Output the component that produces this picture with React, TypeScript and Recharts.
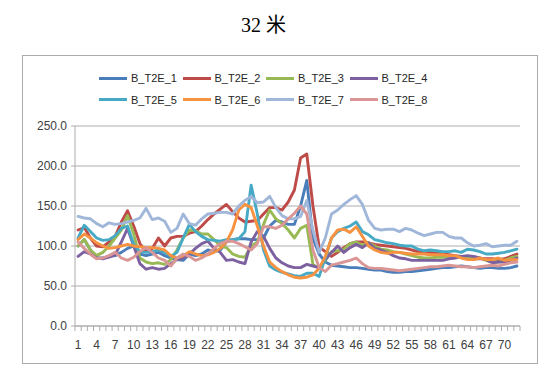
import React from 'react';
import { LineChart, Line, XAxis, YAxis, CartesianGrid, Legend } from 'recharts';

const categories = [1,2,3,4,5,6,7,8,9,10,11,12,13,14,15,16,17,18,19,20,21,22,23,24,25,26,27,28,29,30,31,32,33,34,35,36,37,38,39,40,41,42,43,44,45,46,47,48,49,50,51,52,53,54,55,56,57,58,59,60,61,62,63,64,65,66,67,68,69,70,71,72];
const seriesNames = ['B_T2E_1','B_T2E_2','B_T2E_3','B_T2E_4','B_T2E_5','B_T2E_6','B_T2E_7','B_T2E_8'];
const xLabelTicks = [1,4,7,10,13,16,19,22,25,28,31,34,37,40,43,46,49,52,55,58,61,64,67,70];
const yTicks = [0,50,100,150,200,250];

const b1 = [100,108,95,85,85,87,88,92,97,100, 90,88,90,92,88,85,83,82,90,88, 90,95,93,95,105,108,109,109,108,108, 110,125,132,130,127,127,150,182,109,90, 80,76,75,74,73,73,72,71,70,70, 68,67,67,68,68,69,70,71,72,73, 73,74,75,74,73,72,73,73,72,72, 73,75];
const b2 = [120,123,110,100,99,105,112,130,144,125, 103,93,97,110,100,110,112,112,116,118, 125,133,140,146,152,143,135,130,131,132, 140,148,148,145,155,170,210,215,150,99, 93,87,92,98,103,105,105,104,102,101, 100,99,98,97,95,93,92,92,91,90, 89,88,87,85,84,84,84,84,83,84, 87,90];
const b3 = [100,108,95,88,92,100,110,120,138,115, 85,80,78,79,77,83,95,110,120,119, 115,115,108,100,98,90,87,86,100,105, 127,145,134,128,120,110,122,126,77,72, 82,93,94,96,103,105,101,104,100,96, 95,93,92,90,88,86,85,85,86,86, 87,87,86,85,84,85,82,80,80,82, 85,87];
const b4 = [87,93,90,85,84,86,89,105,122,100, 78,71,73,71,72,78,83,85,90,97, 103,106,97,92,82,83,80,78,105,118, 112,97,85,79,75,73,73,77,75,73, 83,92,100,92,98,102,98,104,97,95, 92,88,85,84,82,82,82,82,82,82, 84,85,87,88,87,85,83,79,80,80, 82,85];
const b5 = [110,126,118,110,107,108,113,122,125,102, 93,92,93,95,92,87,92,110,127,118, 112,108,107,106,108,108,109,118,176,140, 95,75,70,67,65,63,62,66,66,62, 85,110,118,122,125,130,118,114,108,106, 104,103,101,100,100,96,94,95,94,93, 93,94,92,96,95,93,90,90,91,92, 94,96];
const b6 = [108,115,110,104,100,97,98,100,102,100, 99,98,98,97,95,88,85,88,93,90, 88,89,92,97,105,120,145,152,148,125, 100,80,73,68,64,61,60,61,64,72, 87,110,120,121,117,124,112,100,95,92, 91,92,92,91,90,90,90,89,89,89, 88,88,85,83,83,85,83,83,85,82, 83,83];
const b7 = [137,135,134,128,124,129,127,128,130,132, 135,147,133,135,131,117,122,140,128,126, 134,140,141,142,142,140,150,157,162,154, 155,162,148,138,134,134,137,157,120,92, 110,140,145,152,158,163,152,132,122,120, 121,121,118,122,120,116,113,115,117,117, 112,110,110,104,100,101,103,99,100,101, 101,106];
const b8 = [105,97,90,84,85,88,92,85,82,86, 93,98,92,85,82,75,85,90,87,82, 85,90,97,103,106,106,103,99,95,103, 124,124,122,126,134,141,150,140,95,73, 68,76,78,80,82,85,78,73,72,72, 71,70,69,70,71,72,73,74,74,75, 76,75,74,74,73,74,75,76,75,77, 79,80];

const seriesValues = [b1, b2, b3, b4, b5, b6, b7, b8];
const colors = ['#4A7EBB', '#BE4B48', '#98B954', '#7D60A0', '#46AAC5', '#F69240', '#A0B7DA', '#D99694'];

const data = categories.map((c, k) => {
  const row: Record<string, number> = { i: c };
  seriesNames.forEach((n, s) => { row[n] = seriesValues[s][k]; });
  return row;
});

const boundaryTicks = categories.map((c) => c - 0.5).concat([categories[categories.length - 1] + 0.5]);
const allXTicks = boundaryTicks.concat(xLabelTicks);

const FONT = "'Liberation Sans', Arial, sans-serif";
const GRID = '#ADADAD';

function XTick(props: any) {
  const { x, y, payload } = props;
  const v = payload.value;
  if (Number.isInteger(v)) {
    return (
      <text x={x} y={y + 23} textAnchor="middle" fontSize={12} fill="#404040" fontFamily={FONT}>
        {v}
      </text>
    );
  }
  return <line x1={x} x2={x} y1={y} y2={y + 5} stroke={GRID} strokeWidth={1} />;
}

const renderLegend = () => (
  <div style={{ position: 'relative', width: 558, height: 44 }}>
    {seriesNames.map((n, k) => {
      const col = k % 4;
      const row = Math.floor(k / 4);
      return (
        <div
          key={n}
          style={{
            position: 'absolute',
            left: 99 + col * 83.5,
            top: row * 21.5,
            height: 14,
            display: 'flex',
            alignItems: 'center',
            whiteSpace: 'nowrap',
          }}
        >
          <span style={{ display: 'inline-block', width: 28, height: 3, background: colors[k] }} />
          <span style={{ marginLeft: 4, fontSize: 11, fontFamily: FONT, color: '#262626', lineHeight: '14px' }}>{n}</span>
        </div>
      );
    })}
  </div>
);

export default function App() {
  return (
    <div style={{ position: 'fixed', left: 0, top: 0, width: 558, height: 379, background: '#fff', overflow: 'hidden' }}>
      <div
        style={{
          position: 'absolute', left: 0, top: 12, width: 527, textAlign: 'center',
          fontSize: 20, lineHeight: '26px', color: '#000',
          fontFamily: "'Liberation Serif', 'Times New Roman', 'Noto Sans CJK SC', serif",
        }}
      >
        32 米
      </div>
      <div
        style={{
          position: 'absolute', left: 22, top: 55, width: 516, height: 309,
          boxSizing: 'border-box', border: '1px solid #ABABAB',
        }}
      />
      <div style={{ position: 'absolute', left: 0, top: 0 }}>
        <LineChart width={558} height={379} data={data} margin={{ top: 126, right: 38, bottom: 23, left: 25 }}>
          <CartesianGrid vertical={false} stroke={GRID} strokeWidth={1} />
          <XAxis
            dataKey="i"
            type="number"
            domain={[0.5, 72.5]}
            ticks={allXTicks}
            interval={0}
            tick={<XTick />}
            tickLine={false}
            tickSize={0}
            tickMargin={0}
            height={30}
            axisLine={{ stroke: GRID }}
            allowDataOverflow
          />
          <YAxis
            type="number"
            domain={[0, 250]}
            ticks={yTicks}
            interval={0}
            width={50}
            tickSize={4}
            tickMargin={4}
            tickLine={{ stroke: GRID }}
            axisLine={{ stroke: GRID }}
            tickFormatter={(v: number) => v.toFixed(1)}
            tick={{ fontSize: 12, fill: '#404040', fontFamily: FONT }}
          />
          <Legend
            layout="vertical"
            verticalAlign="middle"
            align="center"
            content={renderLegend}
            wrapperStyle={{ left: 0, top: 71, width: 558, height: 44 }}
          />
          {seriesNames.map((n, k) => (
            <Line
              key={n}
              type="linear"
              dataKey={n}
              name={n}
              stroke={colors[k]}
              strokeWidth={2.9}
              strokeLinejoin="round"
              strokeLinecap="round"
              dot={false}
              activeDot={false}
              isAnimationActive={false}
            />
          ))}
        </LineChart>
      </div>
    </div>
  );
}
